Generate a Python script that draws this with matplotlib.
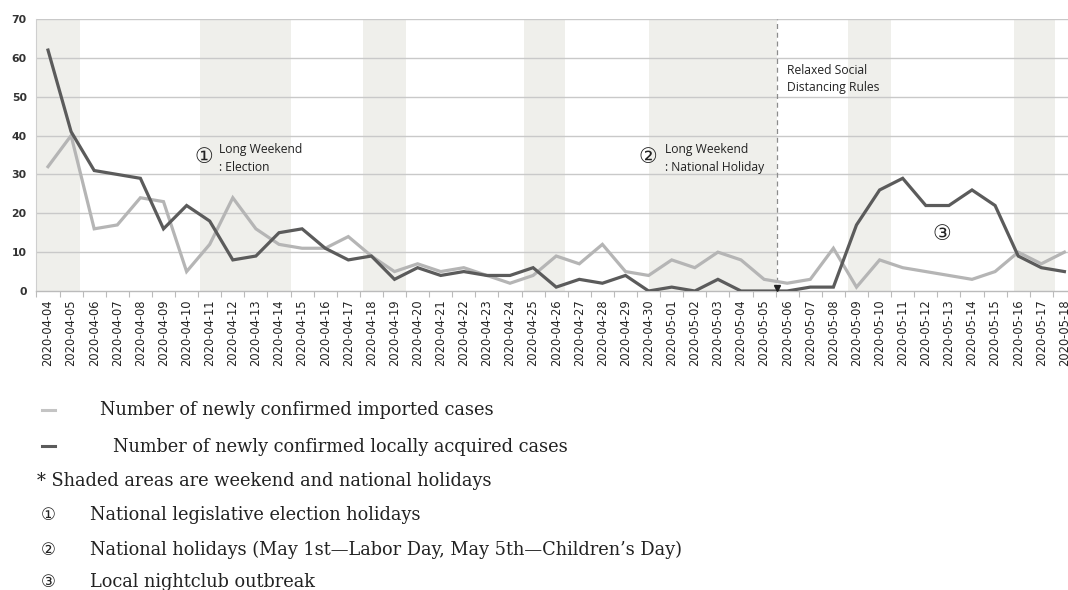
import matplotlib
matplotlib.use("Agg")
import matplotlib.pyplot as plt
import pandas as pd

# ---- data ----
dates = pd.date_range("2020-04-04", "2020-05-18", freq="D").strftime("%Y-%m-%d").tolist()
imported = [32, 40, 16, 17, 24, 23, 5, 12, 24, 16, 12, 11, 11, 14, 9, 5, 7, 5, 6, 4,
            2, 4, 9, 7, 12, 5, 4, 8, 6, 10, 8, 3, 2, 3, 11, 1, 8, 6, 5, 4,
            3, 5, 10, 7, 10]
local = [62, 41, 31, 30, 29, 16, 22, 18, 8, 9, 15, 16, 11, 8, 9, 3, 6, 4, 5, 4,
         4, 6, 1, 3, 2, 4, 0, 1, 0, 3, 0, 0, 0, 1, 1, 17, 26, 29, 22, 22,
         26, 22, 9, 6, 5]
# shaded weekend / holiday spans (category positions as drawn in the source)
shade_spans = [(-0.5, 1.4), (6.6, 10.5), (13.65, 15.5), (20.6, 22.4),
               (26.0, 31.55), (34.65, 36.5), (41.8, 43.6)]
relax_pos = 31.55
yticks = [0, 10, 20, 30, 40, 50, 60, 70]

W, H = 1068, 590
fig = plt.figure(figsize=(W / 100, H / 100), dpi=100)

x0_px, dx_px = 48.0, 23.1
left_px = x0_px - 0.5 * dx_px
right_px = x0_px + 44.5 * dx_px
top_px, bot_px = 19.0, 291.0
ax = fig.add_axes([left_px / W, 1 - bot_px / H, (right_px - left_px) / W, (bot_px - top_px) / H])

x = list(range(len(dates)))
for a, b in shade_spans:
    ax.axvspan(a, b, color="#efefeb", lw=0, zorder=0)

for v in yticks[1:]:
    ax.axhline(v, color="#c9c9c9", lw=1.0, zorder=1)

ax.plot(x, imported, color="#b5b5b5", lw=2.3, zorder=3, solid_joinstyle="miter")
ax.plot(x, local, color="#5b5b5b", lw=2.3, zorder=4, solid_joinstyle="miter")

ax.axvline(relax_pos, color="#8c8c8c", lw=0.9, ls=(0, (4, 3)), zorder=2)
ax.plot([relax_pos], [0.9], marker="v", color="#222222", ms=4, zorder=5, clip_on=False)

ax.set_xlim(-0.5, 44.5)
ax.set_ylim(0, 70)
ax.set_yticks(yticks)
ax.set_yticklabels([str(v) for v in yticks], fontsize=7.8, fontweight="bold", color="#333333")
ax.tick_params(axis="y", length=0, pad=7)
ax.set_xticks(x)
ax.set_xticklabels(dates, rotation=90, fontsize=8.3, color="#222222")
ax.set_xticks([i + 0.5 for i in range(-1, 45)], minor=True)
ax.tick_params(axis="x", which="major", length=0, pad=6)
ax.tick_params(axis="x", which="minor", length=4, color="#bbbbbb", width=0.8)

for s in ["top", "right"]:
    ax.spines[s].set_visible(False)
ax.spines["left"].set_color("#cfcfcf")
ax.spines["bottom"].set_color("#bbbbbb")
ax.spines["left"].set_linewidth(0.8)
ax.spines["bottom"].set_linewidth(1.0)

ann_font = dict(family=["Open Sans", "DejaVu Sans"], fontsize=8.7, color="#222222")
ax.text(6.75, 34.5, "\u2460", fontsize=15, family=["DejaVu Sans"], va="center", ha="center", color="#222222")
ax.text(7.4, 36.3, "Long Weekend", va="center", ha="left", **ann_font)
ax.text(7.4, 31.9, ": Election", va="center", ha="left", **ann_font)
ax.text(25.95, 34.5, "\u2461", fontsize=15, family=["DejaVu Sans"], va="center", ha="center", color="#222222")
ax.text(26.7, 36.3, "Long Weekend", va="center", ha="left", **ann_font)
ax.text(26.7, 31.9, ": National Holiday", va="center", ha="left", **ann_font)
ax.text(32.0, 56.8, "Relaxed Social", va="center", ha="left", **ann_font)
ax.text(32.0, 52.4, "Distancing Rules", va="center", ha="left", **ann_font)
ax.text(38.7, 14.6, "\u2462", fontsize=15, family=["DejaVu Sans"], va="center", ha="center", color="#222222")

# ---- notes below the chart ----
serif = dict(family=["DejaVu Serif"], fontsize=12.8, color="#222222", va="center")
fig.add_artist(plt.Line2D([42 / W, 55 / W], [1 - 410 / H] * 2, color="#c4c4c4", lw=2.2))
fig.text(100 / W, 1 - 410 / H, "Number of newly confirmed imported cases", **serif)
fig.add_artist(plt.Line2D([42 / W, 55 / W], [1 - 446 / H] * 2, color="#5b5b5b", lw=2.2))
fig.text(113 / W, 1 - 447 / H, "Number of newly confirmed locally acquired cases", **serif)
fig.text(37 / W, 1 - 481 / H, "* Shaded areas are weekend and national holidays", **serif)
circ = dict(family=["DejaVu Sans"], fontsize=12, color="#222222", va="center", ha="center")
fig.text(48 / W, 1 - 515 / H, "\u2460", **circ)
fig.text(90 / W, 1 - 515 / H, "National legislative election holidays", **serif)
fig.text(48 / W, 1 - 550 / H, "\u2461", **circ)
fig.text(90 / W, 1 - 550 / H, "National holidays (May 1st\u2014Labor Day, May 5th\u2014Children\u2019s Day)", **serif)
fig.text(48 / W, 1 - 582 / H, "\u2462", **circ)
fig.text(90 / W, 1 - 582 / H, "Local nightclub outbreak", **serif)

fig.savefig("out.png", dpi=100)
